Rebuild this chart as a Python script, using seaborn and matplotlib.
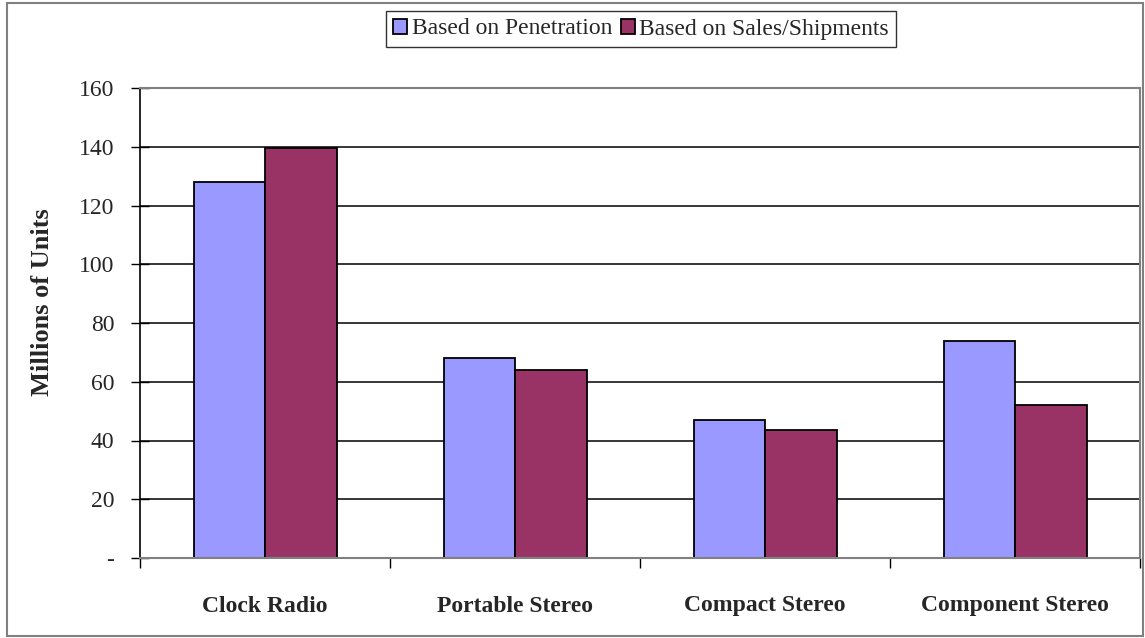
import matplotlib
matplotlib.use("Agg")
import matplotlib.pyplot as plt
import matplotlib.patches as patches
from matplotlib.ticker import FuncFormatter
import pandas as pd
import seaborn as sns

# data (millions of units)
categories = ["Clock Radio", "Portable Stereo", "Compact Stereo", "Component Stereo"]
penetration = [128, 68, 47, 74]
sales_shipments = [139.5, 64, 43.5, 52]
series_names = ["Based on Penetration", "Based on Sales/Shipments"]
y_ticks = [0, 20, 40, 60, 80, 100, 120, 140, 160]

df = pd.DataFrame({
    "category": categories * 2,
    "series": [series_names[0]] * len(categories) + [series_names[1]] * len(categories),
    "units": penetration + sales_shipments,
})

sns.set_style("white")
plt.rcParams["font.family"] = ["Liberation Serif", "DejaVu Serif"]

fig = plt.figure(figsize=(11.45, 6.38), dpi=100)
ax = fig.add_axes([140 / 1145, 1 - 558 / 638, 1000 / 1145, 470 / 638])

sns.barplot(data=df, x="category", y="units", hue="series",
            palette=["#9999FF", "#993366"], width=0.572, gap=0,
            edgecolor="black", linewidth=1.3, saturation=1, ax=ax)

ax.set_ylim(0, 160)
ax.set_xlim(-0.5, len(categories) - 0.5)
ax.set_yticks(y_ticks)
ax.yaxis.set_major_formatter(FuncFormatter(lambda v, p: "-" if v == 0 else f"{v:.0f}"))
ax.yaxis.grid(True, color="black", linewidth=1.1)
ax.set_axisbelow(True)

# category boundary ticks on the x axis
ax.set_xticks([i - 0.5 for i in range(len(categories) + 1)], minor=False)
ax.set_xticklabels([])
ax.set_xticks(range(len(categories)), minor=True)
ax.set_xticklabels(categories, minor=True, fontsize=17, fontweight="bold")
ax.tick_params(axis="x", which="minor", length=0, pad=27)
ax.tick_params(axis="x", which="major", direction="out", length=7, width=1, color="black", bottom=True)
ax.tick_params(axis="y", direction="inout", length=13, width=1, color="black", left=True,
               labelsize=17, pad=12)

ax.set_xlabel("")
ax.set_ylabel("Millions of Units", fontsize=19, fontweight="bold", va="center", ha="center")
ax.yaxis.set_label_coords(-0.097, 0.545)

for side in ["top", "right", "bottom"]:
    ax.spines[side].set_color("#808080")
    ax.spines[side].set_linewidth(1.5)
ax.spines["left"].set_color("black")
ax.spines["left"].set_linewidth(1.2)

handles, labels = ax.get_legend_handles_labels()
ax.legend_.remove()
leg = fig.legend(handles, labels, loc="center", bbox_to_anchor=(641 / 1145, 1 - 29 / 638),
                 ncol=2, fontsize=17, frameon=True, fancybox=False, edgecolor="black",
                 handlelength=0.6, handleheight=0.6, handletextpad=0.2, columnspacing=0.35,
                 borderpad=0.3, borderaxespad=0)
leg.get_frame().set_linewidth(1.0)

# outer chart border
fig.patches.append(patches.Rectangle((7 / 1145, 2 / 638), 1 - 9 / 1145, 1 - 5 / 638,
                                     transform=fig.transFigure, fill=False,
                                     edgecolor="#808080", linewidth=1.5))

fig.savefig("out.png", dpi=100)
